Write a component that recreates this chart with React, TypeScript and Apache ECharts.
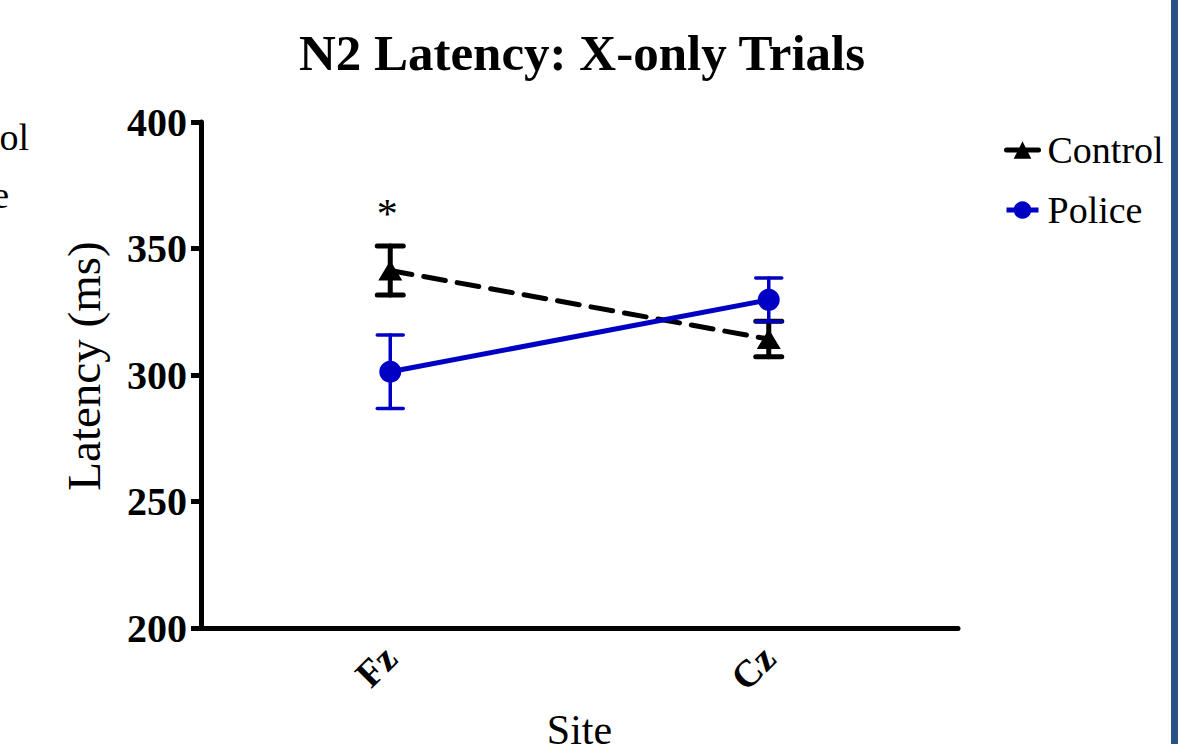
import React, { useEffect, useRef } from "react";
import * as echarts from "echarts";

const categories = ["Fz", "Cz"];
const controlMean = [341.3, 314.2];
const controlErr = [9.7, 7.0];
const policeMean = [301.3, 329.7];
const policeErr = [14.5, 8.6];
const controlMarks = ["*", ""];
const yTicks = { min: 200, max: 400, interval: 50 };

const SERIF = '"Liberation Serif", "Times New Roman", serif';
const BLUE = "#0000c4";

function errorSeries(name: string, means: number[], errs: number[], color: string, width: number, marks: string[] | null, z: number) {
  return {
    type: "custom",
    name: name + "-err",
    z,
    silent: true,
    data: means.map((m, i) => [i, m - errs[i], m + errs[i], marks ? marks[i] : ""]),
    renderItem: (params: any, api: any) => {
      const x = api.value(0);
      const pLo = api.coord([x, api.value(1)]);
      const pHi = api.coord([x, api.value(2)]);
      const mark = api.value(3);
      const hw = 13;
      const style = { stroke: color, lineWidth: width, lineCap: "round" };
      const children: any[] = [
        { type: "line", shape: { x1: pLo[0], y1: pLo[1], x2: pHi[0], y2: pHi[1] }, style },
        { type: "line", shape: { x1: pHi[0] - hw, y1: pHi[1], x2: pHi[0] + hw, y2: pHi[1] }, style },
        { type: "line", shape: { x1: pLo[0] - hw, y1: pLo[1], x2: pLo[0] + hw, y2: pLo[1] }, style },
      ];
      if (mark) {
        children.push({
          type: "text",
          x: pHi[0] - 3,
          y: pHi[1] - 53,
          style: { text: mark, fontFamily: SERIF, fontSize: 42, fill: "#000", align: "center", verticalAlign: "top" },
        });
      }
      return { type: "group", children };
    },
  };
}

export default function App() {
  const ref = useRef<HTMLDivElement>(null);
  useEffect(() => {
    if (!ref.current) return;
    const chart = echarts.init(ref.current, null, { renderer: "svg" });
    chart.setOption({
      animation: false,
      backgroundColor: "#ffffff",
      title: {
        text: "N2 Latency: X-only Trials",
        left: 577,
        top: 22,
        textAlign: "center",
        textStyle: { fontFamily: SERIF, fontSize: 51, fontWeight: "bold", color: "#000" },
      },
      legend: {
        left: 999,
        top: 125,
        orient: "vertical",
        itemWidth: 32,
        itemHeight: 22,
        itemGap: 20,
        data: ["Control", "Police"],
        lineStyle: { type: "solid", width: 5 },
        textStyle: { fontFamily: SERIF, fontSize: 38, color: "#000", lineHeight: 40, padding: [0, 0, 0, 4] },
      },
      grid: { left: 201, right: 220, top: 122, bottom: 116, containLabel: false, outerBoundsMode: "none" },
      xAxis: {
        type: "category",
        data: categories,
        boundaryGap: true,
        name: "Site",
        nameLocation: "middle",
        nameGap: 81,
        nameTextStyle: { fontFamily: SERIF, fontSize: 42, color: "#000" },
        axisLine: { lineStyle: { color: "#000", width: 5 } },
        axisTick: { alignWithLabel: true, length: 10, lineStyle: { color: "#000", width: 5 } },
        axisLabel: { rotate: 45, margin: 24, fontFamily: SERIF, fontSize: 38, fontWeight: "bold", color: "#000" },
        splitLine: { show: false },
      },
      yAxis: {
        type: "value",
        min: yTicks.min,
        max: yTicks.max,
        interval: yTicks.interval,
        name: "Latency (ms)",
        nameLocation: "middle",
        nameGap: 94,
        nameTextStyle: { fontFamily: SERIF, fontSize: 47, color: "#000", padding: [0, 0, 0, 18] },
        axisLine: { show: true, lineStyle: { color: "#000", width: 5 } },
        axisTick: { show: true, length: 10, lineStyle: { color: "#000", width: 5 } },
        axisLabel: { margin: 14, fontFamily: SERIF, fontSize: 40, fontWeight: "bold", color: "#000" },
        splitLine: { show: false },
      },
      graphic: [
        { type: "rect", shape: { x: 1171, y: 0, width: 7, height: 744 }, style: { fill: "#2a5185" } },
        { type: "text", x: 29, y: 118, style: { text: "Control", fontFamily: SERIF, fontSize: 38, fill: "#000", align: "right" } },
        { type: "text", x: 9, y: 176, style: { text: "Police", fontFamily: SERIF, fontSize: 38, fill: "#000", align: "right" } },
      ],
      series: [
        {
          type: "line",
          name: "Control",
          data: controlMean,
          color: "#000",
          symbol: "triangle",
          symbolSize: [24, 20],
          z: 3,
          lineStyle: { color: "#000", width: 5, type: [22, 12], cap: "round" },
          itemStyle: { color: "#000" },
        },
        errorSeries("Control", controlMean, controlErr, "#000", 5, controlMarks, 2),
        {
          type: "line",
          name: "Police",
          data: policeMean,
          color: BLUE,
          symbol: "circle",
          symbolSize: 22,
          z: 5,
          lineStyle: { color: BLUE, width: 5 },
          itemStyle: { color: BLUE },
        },
        errorSeries("Police", policeMean, policeErr, BLUE, 3.5, null, 4),
      ],
    });
    return () => chart.dispose();
  }, []);
  return <div ref={ref} style={{ position: "fixed", left: 0, top: 0, width: 1178, height: 744 }} />;
}
